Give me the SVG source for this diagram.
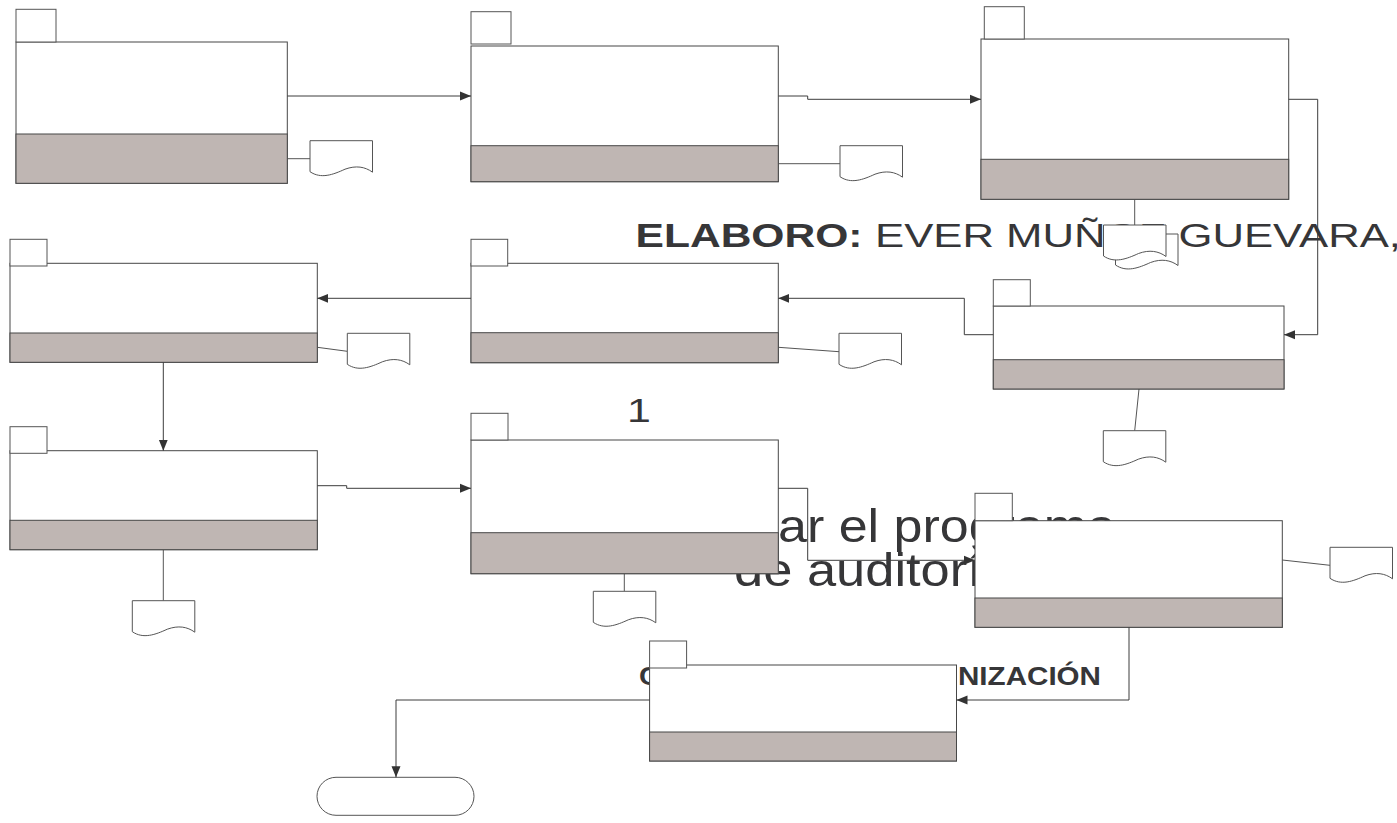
<svg xmlns="http://www.w3.org/2000/svg" width="1397" height="823" viewBox="0 0 1397 823">
<style>
.t{font-family:"Liberation Sans",Arial,sans-serif;fill:#363638}
.b{font-weight:bold}
.main{fill:#fff;stroke:#474747;stroke-width:1}
.band{fill:#bfb6b3;stroke:#474747;stroke-width:1}
.sq{fill:#fff;stroke:#555;stroke-width:1}
.doc{fill:#fff;stroke:#555;stroke-width:1}
.lk{fill:none;stroke:#555;stroke-width:1}
.cn{fill:none;stroke:#3c3c3c;stroke-width:1}
.term{fill:#fff;stroke:#555;stroke-width:1}
</style>
<defs>
<marker id="ah" markerUnits="userSpaceOnUse" markerWidth="12" markerHeight="10" refX="11" refY="5" orient="auto">
<path d="M0,0.5 L11,5 L0,9.5 Z" fill="#333"/>
</marker>
<path id="docshape" d="M0,0 H62.5 V31.5 C55,26 46,24.5 35,28.5 C23,34 11,38.5 0,31 Z"/>
</defs>
<rect width="1397" height="823" fill="#fff"/>

<g id="texts">
<text class="t b" x="635.5" y="247" font-size="33" textLength="227" lengthAdjust="spacingAndGlyphs">ELABORO:</text>
<text class="t" x="875" y="247" font-size="33" textLength="526" lengthAdjust="spacingAndGlyphs">EVER MUÑOZ GUEVARA,</text>
<text class="t" x="0" y="0" font-size="33" transform="translate(627,421.7) scale(1.3,1)">1</text>
<text class="t" x="778" y="541.7" font-size="46" textLength="338" lengthAdjust="spacingAndGlyphs">ar el programa</text>
<text class="t" x="734" y="585.5" font-size="46" textLength="277" lengthAdjust="spacingAndGlyphs">de auditoría</text>
<text class="t b" x="639" y="685" font-size="26" textLength="21" lengthAdjust="spacingAndGlyphs">C</text>
<text class="t b" x="958" y="685" font-size="26" textLength="143" lengthAdjust="spacingAndGlyphs">NIZACIÓN</text>
</g>

<g id="links">
<path class="lk" d="M287.3,158.7 H310"/>
<path class="lk" d="M778.3,163.7 H840"/>
<path class="lk" d="M1134.7,199.3 V225"/>
<path class="lk" d="M317.3,347.3 L347.3,351.3"/>
<path class="lk" d="M778.3,347.3 L839,351.7"/>
<path class="lk" d="M1139,389 L1134.7,430.7"/>
<path class="lk" d="M163.3,549.7 V600.7"/>
<path class="lk" d="M624.3,573.7 V591.3"/>
<path class="lk" d="M1282.3,560 L1330,565.3"/>
</g>

<g id="node1">
<rect class="main" x="16" y="42" width="271.3" height="141.3"/>
<rect class="band" x="16" y="134" width="271.3" height="49.3"/>
<rect class="sq" x="16" y="9.3" width="40" height="32.7"/>
</g>
<g id="node2">
<rect class="main" x="471" y="46" width="307.3" height="135.7"/>
<rect class="band" x="471" y="145.7" width="307.3" height="36"/>
<rect class="sq" x="471" y="11.7" width="40" height="32.3"/>
</g>
<g id="node3">
<rect class="main" x="981" y="39" width="307.7" height="160.3"/>
<rect class="band" x="981" y="159.3" width="307.7" height="40"/>
<rect class="sq" x="984.3" y="6.7" width="40" height="32.3"/>
</g>
<g id="node4">
<rect class="main" x="10" y="263.3" width="307.3" height="99"/>
<rect class="band" x="10" y="333" width="307.3" height="29.3"/>
<rect class="sq" x="10" y="239.3" width="37" height="26.7"/>
</g>
<g id="node5">
<rect class="main" x="471" y="263.3" width="307.3" height="99.4"/>
<rect class="band" x="471" y="332.7" width="307.3" height="30"/>
<rect class="sq" x="471" y="239.3" width="36.7" height="26.7"/>
</g>
<g id="node6">
<rect class="main" x="993.3" y="306" width="290.7" height="83"/>
<rect class="band" x="993.3" y="359.7" width="290.7" height="29.3"/>
<rect class="sq" x="993.3" y="279.7" width="37" height="26.3"/>
</g>
<g id="node7">
<rect class="main" x="10" y="450.7" width="307.3" height="99"/>
<rect class="band" x="10" y="520.3" width="307.3" height="29.4"/>
<rect class="sq" x="10" y="426.7" width="37" height="26.6"/>
</g>
<g id="node8">
<rect class="main" x="471" y="440" width="307.3" height="133.7"/>
<rect class="band" x="471" y="532.7" width="307.3" height="41"/>
<rect class="sq" x="471" y="413.3" width="37" height="26.7"/>
</g>
<g id="node9">
<rect class="main" x="975" y="520.7" width="307.3" height="106.6"/>
<rect class="band" x="975" y="598" width="307.3" height="29.3"/>
<rect class="sq" x="975" y="493.3" width="37.3" height="27.4"/>
</g>
<g id="node10">
<rect class="main" x="649.6" y="665" width="306.9" height="96"/>
<rect class="band" x="649.6" y="732" width="306.9" height="29"/>
<rect class="sq" x="649.6" y="641" width="37" height="27"/>
</g>
<g id="terminator">
<rect class="term" x="317" y="777.3" width="157" height="38" rx="19" ry="19"/>
</g>

<g id="documents">
<use href="#docshape" class="doc" x="310" y="140.7"/>
<use href="#docshape" class="doc" x="840" y="145.7"/>
<use href="#docshape" class="doc" x="1115.5" y="234"/>
<use href="#docshape" class="doc" x="1103.5" y="225"/>
<use href="#docshape" class="doc" x="347.3" y="333.3"/>
<use href="#docshape" class="doc" x="839" y="333.3"/>
<use href="#docshape" class="doc" x="1103.3" y="430.7"/>
<use href="#docshape" class="doc" x="132.3" y="600.7"/>
<use href="#docshape" class="doc" x="593.3" y="591.3"/>
<use href="#docshape" class="doc" x="1330" y="547.3"/>
</g>

<g id="connectors">
<path class="cn" d="M287.3,96 H471" marker-end="url(#ah)"/>
<path class="cn" d="M778.3,96 H807.7 V99.3 H981" marker-end="url(#ah)"/>
<path class="cn" d="M1288.7,99.3 H1317.7 V334.7 H1284" marker-end="url(#ah)"/>
<path class="cn" d="M993.3,334.7 H964.3 V298.3 H778.3" marker-end="url(#ah)"/>
<path class="cn" d="M471,298.3 H317.3" marker-end="url(#ah)"/>
<path class="cn" d="M163.3,362.3 V450.7" marker-end="url(#ah)"/>
<path class="cn" d="M317.3,485.7 H346.7 V488.3 H471" marker-end="url(#ah)"/>
<path class="cn" d="M778.3,488.3 H807.7 V560.3 H975" marker-end="url(#ah)"/>
<path class="cn" d="M1129,627.3 V700 H956.5" marker-end="url(#ah)"/>
<path class="cn" d="M649.6,700 H396 V777.3" marker-end="url(#ah)"/>
</g>
</svg>
